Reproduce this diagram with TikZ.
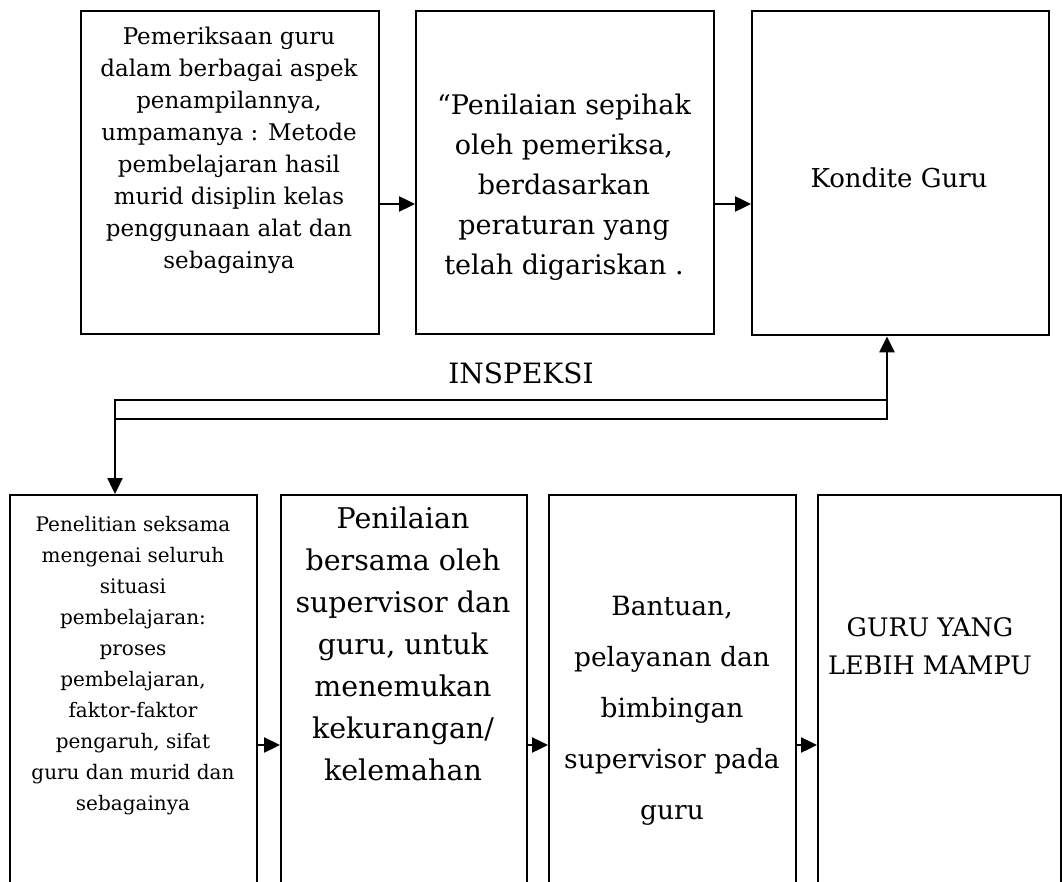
\documentclass[tikz,border=0pt]{standalone}
\usepackage{fontspec}
\setmainfont{DejaVu Serif}
\usetikzlibrary{arrows.meta}

\tikzset{
    box/.style={draw, line width=2.4pt, inner sep=0pt, anchor=north west},
    txt/.style={align=center, inner sep=0pt},
    arr/.style={line width=2.4pt, -{Triangle[length=16pt,width=15pt]}}
}

\begin{document}
\begin{tikzpicture}[x=1pt,y=-1pt]
    \useasboundingbox (0,0) rectangle (1062,882);
    \clip (0,0) rectangle (1062,882);

    % inspeksi
    \node[box, minimum width=298pt, minimum height=323pt] (b1) at (80,10) {};
    \node[box, minimum width=298pt, minimum height=323pt] (b2) at (415,10) {};
    \node[box, minimum width=297pt, minimum height=324pt] (b3) at (751,10) {};

    \node[txt, font=\fontsize{23}{32}\selectfont] (t1) at (229,150)
        {Pemeriksaan guru\\dalam berbagai aspek\\penampilannya,\\umpamanya : Metode\\pembelajaran hasil\\murid disiplin kelas\\penggunaan alat dan\\sebagainya};
    \node[txt, font=\fontsize{27}{40}\selectfont] (t2) at (564,187)
        {“Penilaian sepihak\\oleh pemeriksa,\\berdasarkan\\peraturan yang\\telah digariskan .};
    \node[txt, font=\fontsize{26}{40}\selectfont] (t3) at (899,178) {Kondite Guru};

    \coordinate (ya) at (0,204);
    \draw[arr] (b1.east |- ya) -- (b2.west |- ya);
    \draw[arr] (b2.east |- ya) -- (b3.west |- ya);

    \node[txt, font=\fontsize{28}{30}\selectfont] (ins) at (521,373) {INSPEKSI};

    % supervisi
    \node[box, minimum width=247pt, minimum height=460pt] (b4) at (9,494) {};
    \node[box, minimum width=246pt, minimum height=460pt] (b5) at (280,494) {};
    \node[box, minimum width=247pt, minimum height=460pt] (b6) at (548,494) {};
    \node[box, minimum width=243pt, minimum height=460pt] (b7) at (817,494) {};

    \node[txt, font=\fontsize{20}{31}\selectfont] (t4) at (133,666)
        {Penelitian seksama\\mengenai seluruh\\situasi\\pembelajaran:\\proses\\pembelajaran,\\faktor-faktor\\pengaruh, sifat\\guru dan murid dan\\sebagainya};
    \node[txt, font=\fontsize{28.5}{42}\selectfont] (t5) at (403,644)
        {Penilaian\\bersama oleh\\supervisor dan\\guru, untuk\\menemukan\\kekurangan/\\kelemahan};
    \node[txt, font=\fontsize{26.5}{51}\selectfont] (t6) at (672,711)
        {Bantuan,\\pelayanan dan\\bimbingan\\supervisor pada\\guru};
    \node[txt, font=\fontsize{25.5}{38}\selectfont] (t7) at (930,646)
        {GURU YANG\\LEBIH MAMPU};

    \coordinate (lt) at (115,400);
    \coordinate (rb) at (887,419);
    \draw[line width=2.4pt] (lt) rectangle (rb);
    \draw[arr] (rb) -- (rb |- b3.south);
    \draw[arr] (lt) -- (lt |- b4.north);

    \coordinate (yb) at (0,745);
    \draw[arr] (b4.east |- yb) -- (b5.west |- yb);
    \draw[arr] (b5.east |- yb) -- (b6.west |- yb);
    \draw[arr] (b6.east |- yb) -- (b7.west |- yb);
\end{tikzpicture}
\end{document}
